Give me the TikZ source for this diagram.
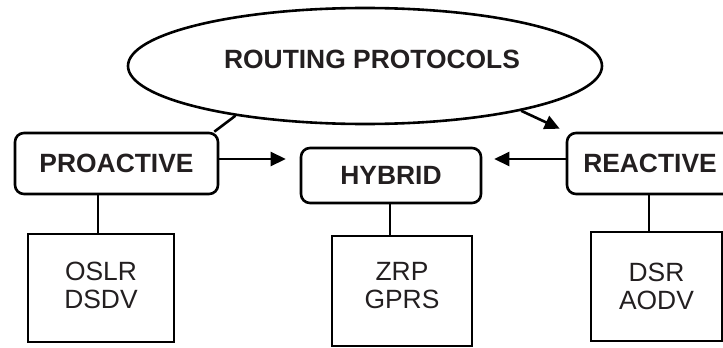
\documentclass[tikz,border=0pt]{standalone}
\usepackage{fontspec}
\setmainfont{Liberation Sans}
\usetikzlibrary{shapes.geometric,arrows.meta,calc}
\definecolor{ink}{HTML}{231F20}
\begin{document}
\begin{tikzpicture}[x=1pt,y=-1pt,
  every node/.style={text=ink,font=\fontsize{26.4}{28}\selectfont},
  conn/.style={line width=2.6pt,draw=black},
  arr/.style={conn,-{Triangle[length=15pt,width=14pt]}},
  catbox/.style={draw=black,line width=2.6pt,rounded corners=9pt,font=\fontsize{26.4}{28}\selectfont\bfseries,inner sep=0pt},
  listbox/.style={draw=black,line width=2.6pt,align=center,inner sep=0pt}]
\useasboundingbox (0,0) rectangle (723,348);
\node[ellipse,draw=black,line width=2.6pt,minimum width=474pt,minimum height=116pt,inner sep=0pt,
      font=\fontsize{26.4}{28}\selectfont\bfseries,text depth=14pt] (ell) at (365,66) {\hspace*{14pt}ROUTING PROTOCOLS};
\node[catbox,minimum width=203pt,minimum height=61pt] (pro) at (116.5,163.5) {PROACTIVE};
\node[catbox,minimum width=180pt,minimum height=55pt] (hyb) at (391,175.5) {HYBRID};
\node[catbox,minimum width=166pt,minimum height=61pt] (rea) at (650,163.5) {REACTIVE};
\node[listbox,minimum width=146pt,minimum height=108pt,text depth=5pt] (osl) at (101,288) {OSLR\\DSDV};
\node[listbox,minimum width=140pt,minimum height=110pt,text depth=12pt] (zrp) at (402,291) {ZRP\\GPRS};
\node[listbox,minimum width=131pt,minimum height=109pt] (dsr) at (656.5,286.5) {DSR\\AODV};
% connectors
\draw[conn] (ell.201) -- ([xshift=-5pt]pro.north east);
\draw[arr] (ell.344) -- ([xshift=-6pt,yshift=3pt]rea.north west);
\draw[arr,shorten >=14pt] ([yshift=4.5pt]pro.east) -- ([yshift=4.5pt]pro.east -| hyb.west);
\draw[arr,shorten >=12pt] ([yshift=4.5pt]rea.west) -- ([yshift=4.5pt]rea.west -| hyb.east);
\draw[conn] ([xshift=-3pt]osl.north) -- ([xshift=-3pt]osl.north |- pro.south);
\draw[conn] ([xshift=-1pt]hyb.south) -- ([xshift=-1pt]hyb.south |- zrp.north);
\draw[conn] ([xshift=-1pt]rea.south) -- ([xshift=-1pt]rea.south |- dsr.north);
\end{tikzpicture}
\end{document}
